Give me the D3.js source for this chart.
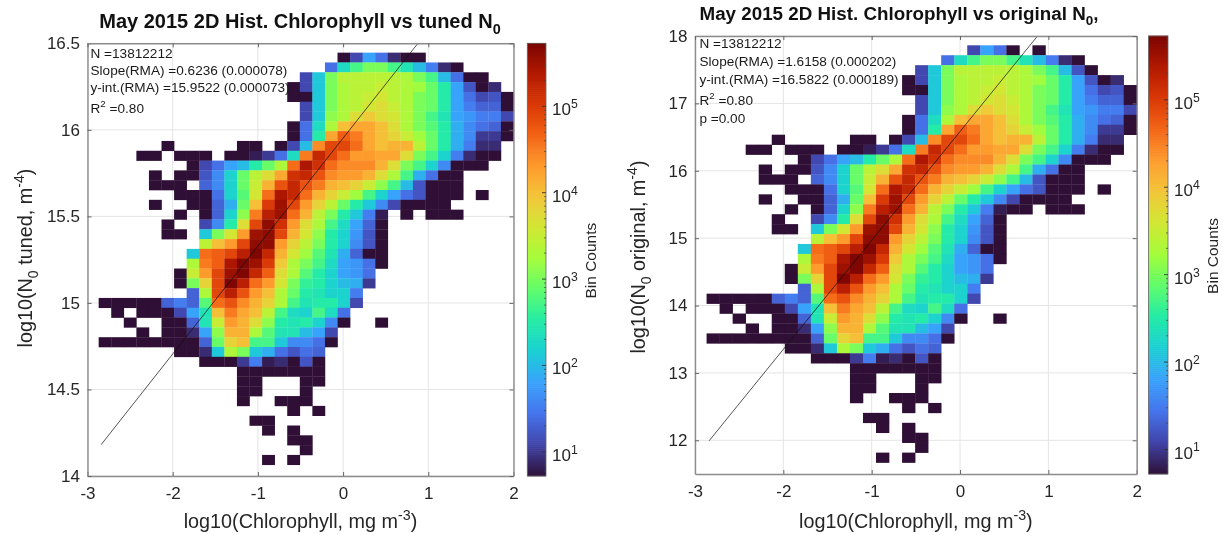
<!DOCTYPE html>
<html>
<head>
<meta charset="utf-8">
<script src="https://cdn.jsdelivr.net/npm/d3@7"></script>
<style>
    html, body { margin: 0; padding: 0; background: #fff; }
    svg { display: block; filter: blur(0.4px); }
    text { font-family: "Liberation Sans", Arial, sans-serif; }
</style>
</head>
<body>
<svg width="1223" height="535"></svg>
<script>
// Turbo stops, the MATLAB flavour (d3.interpolateTurbo starts too dark)
var turboStops = ['#30123b', '#4145ab', '#4675ed', '#39a2fc', '#1bcfd4', '#24eca6', '#61fc6c', '#a4fc3b',
    '#d1e834', '#f3c63a', '#fe9b2d', '#f36315', '#d93806', '#b11901', '#7a0402'];

var xTicks = [-3, -2, -1, 0, 1, 2];
var tunedTicks = [14, 14.5, 15, 15.5, 16, 16.5];
var originalTicks = [12, 13, 14, 15, 16, 17, 18];
var countDecades = [1, 2, 3, 4, 5];
var countDomain = [0.72, 5.73];   // log10 of the colour limits

// Bin edges, same chlorophyll bins on both panels
var xBinRange = [-2.869, 2];
var tunedBinRange = [16.446, 14.065];
var originalBinRange = [17.862, 11.67];

// log10(count) x 10 per bin, top row first, 0 = empty bin
var binRows = [
    [0,0,0,0,0,0,0,0,0,0,0,  0,0,0,0,0,0,0,0,7,11,18,  14,9,7,7,0,0,0,0,0,0,0],
    [0,0,0,0,0,0,0,0,0,0,0,  0,0,0,0,0,0,0,14,23,27,30,  30,27,24,20,15,9,7,0,0,0,0],
    [0,0,0,0,0,0,0,0,0,0,0,  0,0,0,0,0,11,21,30,34,34,34,  34,34,33,30,27,20,14,7,7,0,0],
    [0,0,0,0,0,0,0,0,0,0,0,  0,0,0,0,7,11,21,30,33,34,34,  35,34,33,32,29,25,18,12,7,9,0],
    [0,0,0,0,0,0,0,0,0,0,0,  0,0,0,0,7,7,21,30,33,34,35,  36,34,33,30,29,25,18,14,11,12,7],
    [0,0,0,0,0,0,0,0,0,0,0,  0,0,0,0,0,11,21,30,33,34,36,  37,35,33,30,29,25,18,15,13,13,7],
    [0,0,0,0,0,0,0,0,0,0,0,  0,0,0,0,0,11,21,31,33,37,39,  37,36,33,30,27,24,18,17,15,15,11],
    [0,0,0,0,0,0,0,0,0,0,0,  0,0,0,0,7,14,23,33,40,42,42,  40,37,33,30,28,25,19,16,14,13,7],
    [0,0,0,0,0,0,0,0,0,0,0,  0,0,0,0,7,14,25,42,47,45,42,  40,38,35,32,29,25,19,16,10,10,7],
    [0,0,0,0,0,7,0,0,0,0,0,  7,7,0,7,11,20,44,49,49,46,42,  40,41,41,34,29,25,19,15,9,9,0],
    [0,0,0,7,7,0,7,7,7,0,7,  7,8,10,14,23,45,52,49,46,43,43,  42,42,37,30,27,22,15,9,7,7,0],
    [0,0,0,0,0,0,0,7,11,14,18,  20,25,29,33,46,54,51,46,44,44,44,  41,37,30,27,22,16,7,7,7,0,0],
    [0,0,0,0,7,0,7,7,12,16,22,  29,34,37,42,51,52,48,44,43,43,41,  37,33,27,19,14,7,7,0,0,0,0],
    [0,0,0,0,7,7,7,0,13,16,22,  29,35,41,48,52,48,45,41,40,38,35,  31,27,20,12,7,7,7,0,0,0,0],
    [0,0,0,0,0,0,7,7,7,14,22,  28,36,46,54,52,46,41,38,35,32,27,  22,18,14,12,7,7,7,0,7,0,0],
    [0,0,0,0,7,0,0,7,7,13,19,  29,40,50,55,49,43,38,34,29,25,21,  16,11,7,7,7,7,0,0,0,0,0],
    [0,0,0,0,0,0,7,0,7,13,22,  31,45,53,55,46,41,34,30,25,21,15,  8,0,7,0,7,7,7,0,0,0,0],
    [0,0,0,0,0,7,0,0,11,16,25,  37,49,56,51,43,37,33,27,23,18,13,  7,0,0,0,0,0,0,0,0,0,0],
    [0,0,0,0,0,7,7,0,21,30,36,  43,55,56,49,41,36,31,25,22,17,12,  7,0,0,0,0,0,0,0,0,0,0],
    [0,0,0,0,0,0,0,0,34,40,43,  49,56,56,43,38,34,30,25,22,16,12,  7,0,0,0,0,0,0,0,0,0,0],
    [0,0,0,0,0,0,0,21,46,47,49,  53,57,52,41,36,32,28,24,19,13,7,  7,0,0,0,0,0,0,0,0,0,0],
    [0,0,0,0,0,0,0,33,45,47,54,  57,55,50,39,33,30,27,23,18,17,14,  7,0,0,0,0,0,0,0,0,0,0],
    [0,0,0,0,0,0,7,35,43,49,55,  57,52,47,37,33,28,25,22,18,17,14,  0,0,0,0,0,0,0,0,0,0,0],
    [0,0,0,0,0,0,7,30,38,49,57,  53,46,43,36,30,26,25,22,20,19,10,  0,0,0,0,0,0,0,0,0,0,0],
    [0,0,0,0,0,0,0,13,33,49,53,  48,43,40,33,29,25,24,22,22,15,0,  0,0,0,0,0,0,0,0,0,0,0],
    [7,7,7,7,7,13,15,13,28,46,48,  44,41,38,33,27,24,25,25,22,11,0,  0,0,0,0,0,0,0,0,0,0,0],
    [0,7,0,7,7,7,11,18,24,40,45,  42,40,34,27,23,22,27,23,14,0,0,  0,0,0,0,0,0,0,0,0,0,0],
    [0,0,7,0,0,7,7,13,24,35,43,  41,37,31,25,24,25,22,16,7,0,0,  7,0,0,0,0,0,0,0,0,0,0],
    [0,0,0,7,0,7,7,9,18,31,41,  41,33,28,24,24,20,18,11,0,0,0,  0,0,0,0,0,0,0,0,0,0,0],
    [7,7,7,7,7,7,7,7,13,29,38,  40,27,27,21,16,16,14,7,0,0,0,  0,0,0,0,0,0,0,0,0,0,0],
    [0,0,0,0,0,0,7,7,9,21,33,  30,21,19,14,12,14,13,0,0,0,0,  0,0,0,0,0,0,0,0,0,0,0],
    [0,0,0,0,0,0,0,0,7,7,7,  10,15,8,9,7,12,7,0,0,0,0,  0,0,0,0,0,0,0,0,0,0,0],
    [0,0,0,0,0,0,0,0,0,0,0,  7,7,7,7,7,7,7,0,0,0,0,  0,0,0,0,0,0,0,0,0,0,0],
    [0,0,0,0,0,0,0,0,0,0,0,  7,7,0,0,0,7,7,0,0,0,0,  0,0,0,0,0,0,0,0,0,0,0],
    [0,0,0,0,0,0,0,0,0,0,0,  7,7,0,0,0,7,0,0,0,0,0,  0,0,0,0,0,0,0,0,0,0,0],
    [0,0,0,0,0,0,0,0,0,0,0,  7,0,0,7,7,7,0,0,0,0,0,  0,0,0,0,0,0,0,0,0,0,0],
    [0,0,0,0,0,0,0,0,0,0,0,  0,0,0,0,7,0,7,0,0,0,0,  0,0,0,0,0,0,0,0,0,0,0],
    [0,0,0,0,0,0,0,0,0,0,0,  0,7,7,0,0,0,0,0,0,0,0,  0,0,0,0,0,0,0,0,0,0,0],
    [0,0,0,0,0,0,0,0,0,0,0,  0,0,7,0,7,0,0,0,0,0,0,  0,0,0,0,0,0,0,0,0,0,0],
    [0,0,0,0,0,0,0,0,0,0,0,  0,0,0,0,7,7,0,0,0,0,0,  0,0,0,0,0,0,0,0,0,0,0],
    [0,0,0,0,0,0,0,0,0,0,0,  0,0,0,0,0,7,0,0,0,0,0,  0,0,0,0,0,0,0,0,0,0,0],
    [0,0,0,0,0,0,0,0,0,0,0,  0,0,7,0,7,0,0,0,0,0,0,  0,0,0,0,0,0,0,0,0,0,0]
];

// Where the original N0 histogram differs from the tuned one: [row, column, value]
var originalEdits = [[0, 19, 0], [0, 23, 7], [0, 24, 0], [2, 30, 0], [2, 28, 12], [16, 23, 7]];

var originalRows = binRows.map(function (row) { return row.slice(); });
originalEdits.forEach(function (edit) { originalRows[edit[0]][edit[1]] = edit[2]; });

var textColor = '#262626';
var svg = d3.select('svg');

var color = d3.scaleSequential(d3.piecewise(d3.interpolateRgb, turboStops)).domain(countDomain);

// Text with super/subscript parts: [string, 'sup' | 'sub' | undefined]
function richText(sel, parts, size) {
    var offset = 0;
    parts.forEach(function (part) {
        var shift = part[1] === 'sup' ? -0.42 * size : part[1] === 'sub' ? 0.28 * size : 0;
        var tspan = sel.append('tspan').text(part[0]).attr('dy', shift - offset);
        offset = shift;
        if (part[1]) {
            tspan.attr('font-size', size * 0.72);
        }
    });
    return sel;
}

function drawPanel(cfg) {
    var width = cfg.right - cfg.left;
    var height = cfg.bottom - cfg.top;
    var g = svg.append('g').attr('transform', 'translate(' + cfg.left + ',' + cfg.top + ')');

    var x = d3.scaleLinear().domain([-3, 2]).range([0, width]);
    var y = d3.scaleLinear().domain(cfg.yDomain).range([height, 0]);

    // Grid under the histogram
    g.append('g').selectAll('line').data(xTicks).enter().append('line')
        .attr('x1', function (d) { return x(d); })
        .attr('x2', function (d) { return x(d); })
        .attr('y1', 0).attr('y2', height)
        .attr('stroke', '#e4e4e4').attr('stroke-width', 1);
    g.append('g').selectAll('line').data(cfg.yTicks).enter().append('line')
        .attr('x1', 0).attr('x2', width)
        .attr('y1', function (d) { return y(d); })
        .attr('y2', function (d) { return y(d); })
        .attr('stroke', '#e4e4e4').attr('stroke-width', 1);

    // Histogram cells
    var colEdge = d3.scaleLinear().domain([0, cfg.rows[0].length]).range(xBinRange);
    var rowEdge = d3.scaleLinear().domain([0, cfg.rows.length]).range(cfg.binRange);
    cfg.rows.forEach(function (row, r) {
        row.forEach(function (value, c) {
            if (!value) { return; }
            g.append('rect')
                .attr('x', x(colEdge(c)))
                .attr('y', y(rowEdge(r)))
                .attr('width', x(colEdge(c + 1)) - x(colEdge(c)) + 0.3)
                .attr('height', y(rowEdge(r + 1)) - y(rowEdge(r)) + 0.3)
                .attr('fill', color(value / 10));
        });
    });

    // RMA fit line, clipped at the top of the box
    var fitX = [-2.84, (cfg.yDomain[1] - cfg.intercept) / cfg.slope];
    g.append('path')
        .datum(fitX)
        .attr('fill', 'none')
        .attr('stroke', '#111')
        .attr('stroke-opacity', 0.8)
        .attr('stroke-width', 0.9)
        .attr('d', d3.line()
            .x(function (d) { return x(d); })
            .y(function (d) { return y(cfg.slope * d + cfg.intercept); }));

    // Axes, ticks point inward and mirror on the far sides
    var tickFormat = function (d) { return String(d); };
    var bottom = g.append('g').attr('transform', 'translate(0,' + height + ')')
        .call(d3.axisBottom(x).tickValues(xTicks).tickFormat(tickFormat).tickSize(-4).tickSizeOuter(0).tickPadding(11));
    var leftAxis = g.append('g')
        .call(d3.axisLeft(y).tickValues(cfg.yTicks).tickFormat(tickFormat).tickSize(-4).tickSizeOuter(0).tickPadding(7.5));
    var top = g.append('g')
        .call(d3.axisTop(x).tickValues(xTicks).tickFormat('').tickSize(-4).tickSizeOuter(0));
    var rightAxis = g.append('g').attr('transform', 'translate(' + width + ',0)')
        .call(d3.axisRight(y).tickValues(cfg.yTicks).tickFormat('').tickSize(-4).tickSizeOuter(0));
    [bottom, leftAxis, top, rightAxis].forEach(function (axis) {
        axis.selectAll('path').attr('stroke', '#8c8c8c').attr('stroke-width', 1.4);
        axis.selectAll('line').attr('stroke', '#666');
        axis.selectAll('text')
            .attr('fill', textColor)
            .attr('font-size', 17)
            .style('font-family', '"Liberation Sans", Arial, sans-serif');
    });

    // Title
    richText(svg.append('text')
        .attr('x', cfg.titleX).attr('y', cfg.titleY)
        .attr('text-anchor', 'middle')
        .attr('font-size', cfg.titleSize).attr('font-weight', 'bold').attr('fill', '#111'), cfg.title, cfg.titleSize);

    // Axis labels
    richText(svg.append('text')
        .attr('x', (cfg.left + cfg.right) / 2).attr('y', cfg.xLabelY)
        .attr('text-anchor', 'middle')
        .attr('font-size', 19.8).attr('fill', textColor),
        [['log10(Chlorophyll, mg m'], ['-3', 'sup'], [')']], 19.8);
    richText(svg.append('text')
        .attr('transform', 'translate(' + cfg.yLabelX + ',' + cfg.yLabelY + ') rotate(-90)')
        .attr('text-anchor', 'middle')
        .attr('font-size', 19.8).attr('fill', textColor), cfg.yLabel, 19.8);

    // Stats block
    cfg.stats.forEach(function (line, i) {
        richText(svg.append('text')
            .attr('x', cfg.statsX).attr('y', cfg.statsY[i])
            .attr('font-size', 13.6).attr('fill', '#1a1a1a'), line, 13.6);
    });

    drawColorbar(cfg);
}

function drawColorbar(cfg) {
    var barWidth = cfg.barRight - cfg.barLeft;
    var barHeight = cfg.bottom - cfg.top;
    var g = svg.append('g').attr('transform', 'translate(' + cfg.barLeft + ',' + cfg.top + ')');
    var scale = d3.scaleLinear().domain(countDomain).range([barHeight, 0]);

    var levels = d3.range(countDomain[0], countDomain[1], (countDomain[1] - countDomain[0]) / 220);
    g.selectAll('rect').data(levels).enter().append('rect')
        .attr('x', 0)
        .attr('y', function (d) { return scale(d) - barHeight / 220 - 0.3; })
        .attr('width', barWidth)
        .attr('height', barHeight / 220 + 0.6)
        .attr('fill', function (d) { return color(d); });

    g.append('rect')
        .attr('width', barWidth).attr('height', barHeight)
        .attr('fill', 'none').attr('stroke', '#666').attr('stroke-width', 0.8);

    // Minor and major log ticks on the right side, pointing inward
    var minorTicks = [];
    d3.range(0, 6).forEach(function (decade) {
        d3.range(2, 10).forEach(function (m) {
            var v = decade + Math.log10(m);
            if (v > countDomain[0] && v < countDomain[1]) { minorTicks.push(v); }
        });
    });
    g.selectAll('line.minor').data(minorTicks).enter().append('line')
        .attr('class', 'minor')
        .attr('x1', barWidth - 2).attr('x2', barWidth)
        .attr('y1', function (d) { return scale(d); })
        .attr('y2', function (d) { return scale(d); })
        .attr('stroke', '#444').attr('stroke-width', 0.7);
    g.selectAll('line.major').data(countDecades).enter().append('line')
        .attr('class', 'major')
        .attr('x1', barWidth - 4).attr('x2', barWidth)
        .attr('y1', function (d) { return scale(d); })
        .attr('y2', function (d) { return scale(d); })
        .attr('stroke', '#333').attr('stroke-width', 0.9);

    countDecades.forEach(function (d) {
        richText(g.append('text')
            .attr('x', barWidth + 6).attr('y', scale(d) + 9)
            .attr('font-size', 17).attr('fill', textColor),
            [['10'], [String(d), 'sup']], 17);
    });

    svg.append('text')
        .attr('transform', 'translate(' + cfg.barLabelX + ',' + (cfg.top + barHeight / 2 + 1) + ') rotate(-90)')
        .attr('text-anchor', 'middle')
        .attr('font-size', 15.5).attr('fill', textColor)
        .text('Bin Counts');
}

drawPanel({
    left: 87.5, right: 513.5, top: 43.3, bottom: 476,
    barLeft: 527.3, barRight: 546, barLabelX: 596,
    yDomain: [14, 16.5], yTicks: tunedTicks,
    binRange: tunedBinRange, rows: binRows,
    slope: 0.6236, intercept: 15.9522,
    title: [['May 2015 2D Hist. Chlorophyll vs tuned N'], ['0', 'sub']],
    titleX: 300, titleY: 28, titleSize: 20,
    xLabelY: 528,
    yLabel: [['log10(N'], ['0', 'sub'], [' tuned, m'], ['-4', 'sup'], [')']],
    yLabelX: 32, yLabelY: 258,
    statsX: 90.5, statsY: [57.5, 75, 92, 113],
    stats: [
        [['N =13812212']],
        [['Slope(RMA) =0.6236 (0.000078)']],
        [['y-int.(RMA) =15.9522 (0.000073)']],
        [['R'], ['2', 'sup'], [' =0.80']]
    ]
});

drawPanel({
    left: 695, right: 1136.7, top: 36, bottom: 474,
    barLeft: 1148.5, barRight: 1168, barLabelX: 1218,
    yDomain: [11.5, 18], yTicks: originalTicks,
    binRange: originalBinRange, rows: originalRows,
    slope: 1.6158, intercept: 16.5822,
    title: [['May 2015 2D Hist. Chlorophyll vs original N'], ['0', 'sub'], [',']],
    titleX: 899, titleY: 20, titleSize: 18.8,
    xLabelY: 528,
    yLabel: [['log10(N'], ['0', 'sub'], [' original, m'], ['-4', 'sup'], [')']],
    yLabelX: 645, yLabelY: 257,
    statsX: 699.5, statsY: [48, 66, 84, 105, 123],
    stats: [
        [['N =13812212']],
        [['Slope(RMA) =1.6158 (0.000202)']],
        [['y-int.(RMA) =16.5822 (0.000189)']],
        [['R'], ['2', 'sup'], [' =0.80']],
        [['p =0.00']]
    ]
});
</script>
</body>
</html>
